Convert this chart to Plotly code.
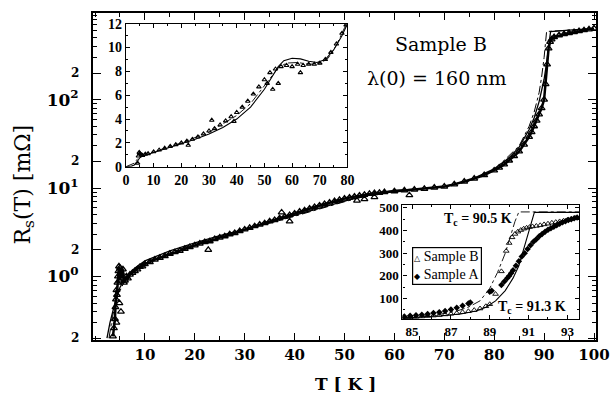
import math
import plotly.graph_objects as go

# ---------------- data ----------------
# Main panel: Sample B measured R_s(T) [mOhm]
main_T_B = [3.6, 3.8, 4.0, 4.1, 4.2, 4.3, 4.4, 4.5, 4.6, 4.7, 4.8, 4.9, 5.0, 5.2, 5.4, 5.6, 5.8,
            6.0, 6.3, 6.6, 7.0, 7.5, 8.0, 8.5, 9.0, 9.5, 10, 11, 12, 13, 14, 15, 16, 17, 18, 19,
            20, 21, 22, 23, 24, 25, 26, 27, 28, 29, 30, 31, 32, 33, 34, 35, 36, 37, 38, 39, 40,
            41, 42, 43, 44, 45, 46, 47, 48, 49, 50, 51, 52, 53, 54, 55, 56, 57, 58, 60, 62, 64,
            66, 68, 70, 72, 74, 76, 78, 80, 81, 82, 83, 84, 85, 86, 87, 87.5, 88, 88.5, 89, 89.5,
            90, 90.3, 90.6, 90.9, 91.2, 91.5, 92, 93, 94, 95, 96, 97, 98, 99, 100]
main_R_B = [0.21, 0.26, 0.33, 0.45, 0.55, 0.7, 0.62, 0.85, 1.0, 1.15, 1.3, 0.9, 1.25, 1.1, 0.95, 1.2, 0.85,
            0.9, 1.0, 0.95, 1.05, 1.1, 1.15, 1.2, 1.28, 1.3, 1.38, 1.45, 1.55, 1.62, 1.7, 1.8, 1.88, 1.95, 2.05, 2.15,
            2.25, 2.35, 2.45, 2.5, 2.65, 2.75, 2.85, 3.0, 3.1, 3.25, 3.4, 3.55, 3.7, 3.85, 4.0, 4.2, 4.35, 4.55, 4.75, 4.95, 5.15,
            5.4, 5.6, 5.85, 6.1, 6.35, 6.6, 6.85, 7.1, 7.35, 7.6, 7.8, 8.0, 8.2, 8.4, 8.6, 8.75, 8.85, 9.0, 9.2, 9.4, 9.6,
            9.8, 10.1, 10.4, 11.0, 11.8, 12.8, 14.0, 15.8, 17, 18.5, 20.5, 23, 26, 31, 38, 43, 50, 58, 68, 80,
            100, 150, 250, 380, 450, 480, 510, 535, 550, 565, 580, 595, 610, 625, 640]
# Main panel: scattered (outlying) Sample B points
main_T_B_out = [22.7, 37.4, 39, 52.5, 54, 56, 63, 5.2, 4.9, 4.3]
main_R_B_out = [2.0, 5.3, 4.2, 7.2, 7.5, 7.9, 8.3, 0.4, 0.5, 0.3]

# Main panel: model curves
main_T_fit1 = [2.4, 3, 4, 5, 6, 8, 10, 15, 20, 25, 30, 35, 40, 45, 50, 55, 60, 65, 70, 75, 80,
               83, 85, 87, 88, 89, 90, 90.5, 91, 91.3, 95, 100]
main_R_fit1 = [0.2, 0.3, 0.5, 0.75, 0.95, 1.25, 1.5, 1.95, 2.4, 2.9, 3.4, 4.1, 4.9, 5.9, 7.1, 8.4, 9.4, 9.8,
               10.4, 12.2, 16.5, 22, 29, 46, 62, 95, 170, 260, 420, 590, 610, 635]
main_T_fit2 = [2.8, 3.5, 4.5, 6, 8, 10, 20, 30, 40, 50, 55, 60, 70, 75, 80, 85, 87, 88, 89, 89.5, 90, 90.5, 95, 100]
main_R_fit2 = [0.2, 0.35, 0.6, 0.9, 1.2, 1.45, 2.35, 3.35, 4.8, 7.0, 8.3, 9.2, 10.3, 12.0, 16, 30, 50, 72,
               120, 180, 300, 590, 610, 635]

# Upper-left inset (linear): Sample B measured
in1_T = [4.2, 4.5, 4.8, 5.0, 5.5, 6, 7, 8, 10, 12, 14, 16, 18, 20, 22, 22.5, 24, 26, 28, 30, 31, 32, 34,
         36, 38, 39, 40, 42, 44, 46, 48, 50, 51, 52, 53, 54, 55, 56, 58, 60, 62, 63, 64, 66, 68, 70, 72,
         74, 76, 78, 79.5]
in1_R = [0.3, 0.9, 1.2, 1.1, 1.0, 0.95, 1.05, 1.1, 1.25, 1.4, 1.55, 1.7, 1.85, 2.0, 2.15, 1.8, 2.3, 2.5,
         2.75, 3.0, 3.9, 3.2, 3.5, 3.85, 4.2, 3.8, 4.55, 5.0, 5.5, 6.1, 6.7, 7.3, 7.0, 7.9, 6.5, 8.2, 7.0,
         8.4, 8.5, 8.4, 8.6, 7.9, 8.5, 8.6, 8.6, 8.7, 9.0, 9.6, 10.3, 11.2, 11.9]
in1_T_fit1 = [0, 2, 3, 4, 5, 6, 8, 10, 15, 20, 25, 30, 35, 40, 45, 50, 53, 55, 57, 60, 63, 66, 69, 72, 75, 78, 80]
in1_R_fit1 = [0, 0.05, 0.15, 0.4, 0.75, 0.9, 1.05, 1.2, 1.55, 1.9, 2.3, 2.75, 3.3, 4.0, 5.0, 6.5, 7.6, 8.4,
              8.9, 9.1, 9.05, 8.85, 8.75, 9.0, 9.8, 11.0, 12.0]
in1_T_fit2 = [0, 3, 4, 5, 8, 10, 20, 30, 40, 45, 50, 55, 58, 62, 66, 70, 73, 76, 79, 80]
in1_R_fit2 = [0, 0.3, 0.6, 0.85, 1.1, 1.25, 2.0, 2.9, 4.3, 5.3, 6.8, 8.3, 8.7, 8.75, 8.6, 8.65, 9.1, 10.2, 11.7, 12.3]

# Lower-right inset: transition region
in2_T_B = [84.6, 84.9, 85.2, 85.5, 85.8, 86.1, 86.4, 86.7, 87.0, 87.3, 87.6, 87.9, 88.2, 88.5, 88.8, 89.0,
           89.3, 89.6, 89.85, 90.0, 90.15, 90.3, 90.45, 90.6, 90.75, 90.9, 91.05, 91.2, 91.4, 91.6, 91.8,
           92.0, 92.2, 92.4, 92.6, 92.8, 93.0, 93.2, 93.4]
in2_R_B = [17, 18, 19, 21, 23, 25, 27, 30, 33, 36, 40, 44, 49, 56, 66, 75, 120, 220, 310, 345, 370, 385,
           395, 402, 408, 412, 415, 418, 420, 423, 427, 430, 434, 437, 440, 443, 447, 451, 455]
in2_T_A = [84.6, 84.9, 85.2, 85.5, 85.8, 86.1, 86.4, 86.7, 87.0, 87.3, 87.6, 87.9, 88.0, 89.0, 89.1, 89.6,
           89.75, 89.9, 90.0, 90.1, 90.2, 90.35, 90.5, 90.65, 90.8, 90.95, 91.1, 91.25, 91.4, 91.55, 91.7,
           91.85, 92.0, 92.15, 92.3, 92.45, 92.6, 92.75, 92.9, 93.05, 93.2, 93.35, 93.5]
in2_R_A = [21, 24, 27, 29, 32, 36, 40, 45, 52, 60, 68, 78, 83, 130, 135, 160, 175, 190, 200, 212, 225, 245,
           265, 285, 300, 318, 335, 350, 362, 375, 385, 395, 403, 410, 417, 423, 430, 436, 441, 446, 450, 454, 457]
in2_T_fit1 = [84.5, 85.5, 86.5, 87.5, 88.3, 88.8, 89.3, 89.8, 90.2, 90.5, 90.8, 91.0, 91.2, 91.3, 93.6]
in2_R_fit1 = [14, 18, 24, 32, 45, 62, 90, 135, 190, 245, 330, 390, 450, 480, 480]
in2_T_fit2 = [84.5, 85.5, 86.5, 87.3, 87.9, 88.5, 89.0, 89.4, 89.8, 90.1, 90.3, 90.5, 93.6]
in2_R_fit2 = [16, 22, 32, 45, 62, 90, 145, 215, 300, 390, 440, 482, 482]

main_xticks = [10, 20, 30, 40, 50, 60, 70, 80, 90, 100]
main_ydecades = [1, 10, 100]
main_ydecade_text = ["10<sup>0</sup>", "10<sup>1</sup>", "10<sup>2</sup>"]
main_ytwos = [0.2, 2, 20, 200]
main_ytwo_text = ["2", "2", "2", "2"]
main_yminor = [0.3, 0.4, 0.5, 0.6, 0.7, 0.8, 0.9, 3, 4, 5, 6, 7, 8, 9,
               30, 40, 50, 60, 70, 80, 90, 300, 400, 500, 600, 700, 800, 900]
in2_xticks = [85, 87, 89, 91, 93]

# ---------------- layout helpers ----------------
L, R, T, B = 93, 597, 6, 340
def fx(p):
    return (p - L) / (R - L)
def fy(p):
    return (B - p) / (B - T)

SERIF = "DejaVu Serif"
TIMES = "Liberation Serif"
BLACK = "black"

fig = go.Figure()

# main panel
fig.add_trace(go.Scatter(x=main_T_fit1, y=main_R_fit1, mode="lines",
                         line=dict(color=BLACK, width=1.3), xaxis="x", yaxis="y"))
fig.add_trace(go.Scatter(x=main_T_fit2, y=main_R_fit2, mode="lines",
                         line=dict(color=BLACK, width=1, dash="dashdot"), xaxis="x", yaxis="y"))
fig.add_trace(go.Scatter(x=main_T_B, y=main_R_B, mode="lines+markers",
                         line=dict(color=BLACK, width=2.5),
                         marker=dict(symbol="triangle-up-open", size=6, color=BLACK, line=dict(width=1.3)),
                         xaxis="x", yaxis="y"))
fig.add_trace(go.Scatter(x=main_T_B_out, y=main_R_B_out, mode="markers",
                         marker=dict(symbol="triangle-up-open", size=6, color=BLACK, line=dict(width=1.2)),
                         xaxis="x", yaxis="y"))

# inset 1
fig.add_trace(go.Scatter(x=in1_T_fit1, y=in1_R_fit1, mode="lines",
                         line=dict(color=BLACK, width=1.1), xaxis="x2", yaxis="y2"))
fig.add_trace(go.Scatter(x=in1_T_fit2, y=in1_R_fit2, mode="lines",
                         line=dict(color=BLACK, width=0.9, dash="dashdot"), xaxis="x2", yaxis="y2"))
fig.add_trace(go.Scatter(x=in1_T, y=in1_R, mode="markers",
                         marker=dict(symbol="triangle-up-open", size=4, color=BLACK, line=dict(width=1.1)),
                         xaxis="x2", yaxis="y2"))

# inset 2
fig.add_trace(go.Scatter(x=in2_T_fit1, y=in2_R_fit1, mode="lines",
                         line=dict(color=BLACK, width=1.1), xaxis="x3", yaxis="y3"))
fig.add_trace(go.Scatter(x=in2_T_fit2, y=in2_R_fit2, mode="lines",
                         line=dict(color=BLACK, width=0.9, dash="dashdot"), xaxis="x3", yaxis="y3"))
fig.add_trace(go.Scatter(x=in2_T_B, y=in2_R_B, mode="markers",
                         marker=dict(symbol="triangle-up-open", size=5, color=BLACK, line=dict(width=0.9)),
                         xaxis="x3", yaxis="y3"))
fig.add_trace(go.Scatter(x=in2_T_A, y=in2_R_A, mode="markers",
                         marker=dict(symbol="diamond", size=5, color=BLACK),
                         xaxis="x3", yaxis="y3"))

axis_common = dict(showline=True, linecolor=BLACK, mirror="ticks", ticks="inside",
                   tickcolor=BLACK, showgrid=False, zeroline=False)

fig.update_layout(
    width=616, height=401,
    margin=dict(l=L, r=616 - R, t=T, b=401 - B),
    paper_bgcolor="white", plot_bgcolor="white",
    showlegend=False,
    xaxis=dict(**axis_common, domain=[0, 1], range=[-0.4, 100.4], linewidth=2,
               tickmode="array", tickvals=main_xticks, ticklen=7, tickwidth=1.2,
               minor=dict(dtick=5, tick0=0, ticklen=4, ticks="inside", tickcolor=BLACK),
               tickfont=dict(family=SERIF, size=15, color=BLACK, weight="bold"), anchor="y"),
    yaxis=dict(**axis_common, domain=[0, 1], type="log", range=[-0.719, 2.98], linewidth=2,
               tickmode="array", tickvals=main_ydecades + main_ytwos,
               ticktext=main_ydecade_text + ["", "", "", ""],
               ticklen=8, tickwidth=1.2, ticklabelstandoff=9,
               minor=dict(tickmode="array", tickvals=main_yminor, ticklen=4, ticks="inside", tickcolor=BLACK),
               tickfont=dict(family=SERIF, size=17, color=BLACK, weight="bold"), anchor="x"),
    xaxis2=dict(**axis_common, domain=[fx(126), fx(348)], range=[0, 80], linewidth=1.3,
                dtick=10, tick0=0, ticklen=4,
                minor=dict(dtick=5, tick0=0, ticklen=2, ticks="inside", tickcolor=BLACK),
                tickfont=dict(family=TIMES, size=14, color=BLACK, weight="bold"), anchor="y2"),
    yaxis2=dict(**axis_common, domain=[fy(163), fy(17)], range=[0, 12], linewidth=1.3,
                dtick=2, tick0=0, ticklen=4,
                minor=dict(dtick=1, tick0=0, ticklen=2, ticks="inside", tickcolor=BLACK),
                tickfont=dict(family=TIMES, size=14, color=BLACK, weight="bold"), anchor="x2"),
    xaxis3=dict(**axis_common, domain=[fx(403), fx(580)], range=[84.5, 93.6], linewidth=1.3,
                tickmode="array", tickvals=in2_xticks, ticklen=4,
                minor=dict(dtick=1, tick0=84, ticklen=2, ticks="inside", tickcolor=BLACK),
                tickfont=dict(family=TIMES, size=13, color=BLACK, weight="bold"), anchor="y3"),
    yaxis3=dict(**axis_common, domain=[fy(319), fy(202)], range=[8, 513], linewidth=1.3,
                dtick=100, tick0=0, ticklen=4,
                minor=dict(dtick=50, tick0=0, ticklen=2, ticks="inside", tickcolor=BLACK),
                tickfont=dict(family=TIMES, size=13, color=BLACK, weight="bold"), anchor="x3"),
)

ann = [
    dict(x=fx(24), y=fy(181), text="R<sub>s</sub>(T) [mΩ]", textangle=-90,
         font=dict(family=SERIF, size=22, color=BLACK)),
    dict(x=fx(346), y=fy(385), text="T [ K ]",
         font=dict(family=SERIF, size=17, color=BLACK, weight="bold")),
    dict(x=fx(442), y=fy(38), text="Sample B",
         font=dict(family=SERIF, size=19, color=BLACK)),
    dict(x=fx(438), y=fy(72), text="λ(0) = 160 nm",
         font=dict(family=SERIF, size=19, color=BLACK)),
    dict(x=fx(479), y=fy(217), text="T<sub>c</sub> = 90.5 K",
         font=dict(family=TIMES, size=14, color=BLACK, weight="bold")),
    dict(x=fx(533), y=fy(307), text="T<sub>c</sub> = 91.3 K",
         font=dict(family=TIMES, size=14, color=BLACK, weight="bold")),
    dict(x=fx(448), y=fy(264),
         text="<span style='font-size:8px'>△</span> Sample B<br><span style='font-size:8px'>◆</span> Sample A",
         align="left", bordercolor=BLACK, borderwidth=1.2, borderpad=1, bgcolor="white",
         font=dict(family=TIMES, size=14, color=BLACK)),
]
for a in ann:
    a.update(xref="paper", yref="paper", showarrow=False, xanchor="center", yanchor="middle")

# small "2" labels of the log axis, as text next to their ticks
for v, txt in zip(main_ytwos, main_ytwo_text):
    ann.append(dict(x=fx(81), y=math.log10(v), xref="paper", yref="y", text=txt, showarrow=False,
                    xanchor="right", yanchor="middle",
                    font=dict(family=SERIF, size=12, color=BLACK, weight="bold")))
fig.update_layout(annotations=ann)

fig.write_html("out.html")
